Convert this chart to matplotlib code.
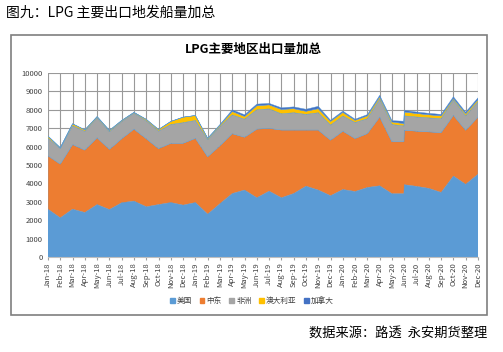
import matplotlib
matplotlib.use("Agg")
import matplotlib.pyplot as plt
import matplotlib.patches as mpatches
import numpy as np
import pandas as pd

plt.rcParams['font.family'] = ['Noto Sans CJK SC', 'DejaVu Sans']

# ---- data ----
dates = ["2018-01-01", "2018-02-01", "2018-03-01", "2018-04-01", "2018-05-01", "2018-06-01",
         "2018-07-01", "2018-08-01", "2018-09-01", "2018-10-01", "2018-11-01", "2018-12-01",
         "2019-01-01", "2019-02-01", "2019-03-01", "2019-04-01", "2019-05-01", "2019-06-01",
         "2019-07-01", "2019-08-01", "2019-09-01", "2019-10-01", "2019-11-01", "2019-12-01",
         "2020-01-01", "2020-02-01", "2020-03-01", "2020-04-01", "2020-05-01", "2020-05-31",
         "2020-06-01", "2020-07-01", "2020-08-01", "2020-09-01", "2020-10-01", "2020-11-01",
         "2020-12-01"]

usa = [2600, 2130, 2600, 2420, 2850, 2580, 2950, 3040, 2730, 2850, 2960, 2820,
       2960, 2330, 2900, 3450, 3640, 3220, 3580, 3220, 3450, 3850, 3640, 3330,
       3670, 3560, 3780, 3870, 3440, 3440, 3930, 3840, 3730, 3510, 4400, 3950, 4500]
middle_east = [2900, 2920, 3510, 3390, 3630, 3270, 3480, 3910, 3700, 3040, 3220, 3360,
               3490, 3120, 3150, 3250, 2870, 3730, 3410, 3680, 3450, 3050, 3260, 3020,
               3170, 2880, 2930, 3740, 2820, 2820, 2960, 3000, 3070, 3250, 3300, 2940, 3110]
africa = [960, 850, 1020, 1020, 1080, 960, 930, 860, 970, 950, 1020, 1120,
          970, 920, 1040, 1020, 980, 1050, 1060, 880, 940, 850, 940, 820,
          820, 870, 810, 960, 940, 860, 780, 770, 760, 760, 820, 780, 820]
australia = [110, 40, 110, 80, 70, 70, 60, 50, 80, 90, 170, 300,
             270, 80, 80, 190, 150, 220, 220, 240, 220, 170, 220, 200,
             200, 120, 150, 130, 140, 130, 210, 190, 170, 150, 90, 120, 120]
canada = [0, 0, 0, 0, 0, 0, 0, 0, 0, 0, 0, 0,
          0, 0, 30, 90, 90, 90, 80, 90, 100, 110, 130, 60,
          70, 60, 70, 90, 70, 130, 90, 80, 80, 80, 100, 80, 100]

series_names = ["美国", "中东", "非洲", "澳大利亚", "加拿大"]
colors = ["#5B9BD5", "#ED7D31", "#A5A5A5", "#FFC000", "#4472C4"]

# ---- figure ----
fig = plt.figure(figsize=(5.03, 3.52), dpi=100)

# outer frame
frame = mpatches.Rectangle((11 / 503, 1 - 315 / 352), (487 - 11) / 503, (315 - 35) / 352,
                           transform=fig.transFigure, fill=False, edgecolor="#7f7f7f",
                           linewidth=1.2)
fig.patches.append(frame)

fig.text(6 / 503, 1 - 13 / 352, "图九：LPG 主要出口地发船量加总", fontsize=10,
         ha="left", va="center", color="#000000")
fig.text(487 / 503, 1 - 333 / 352, "数据来源：路透  永安期货整理", fontsize=9.5,
         ha="right", va="center", color="#000000")

ax = fig.add_axes([48 / 503, 1 - 257 / 352, (478 - 48) / 503, (257 - 73) / 352])

d = pd.to_datetime(dates)
x = np.array([(t.year - 2018) * 12 + t.month - 1 + (t.day - 1) / t.days_in_month for t in d])

ax.stackplot(x, usa, middle_east, africa, australia, canada, colors=colors,
             labels=series_names, linewidth=0.3, edgecolors=colors, zorder=2)

ax.set_xlim(x.min(), x.max())
ax.set_ylim(0, 10000)
ax.set_yticks(np.arange(0, 10001, 1000))
tick_dates = [t for t in d if t.day == 1]
tick_pos = [(t.year - 2018) * 12 + t.month - 1 for t in tick_dates]
ax.set_xticks(tick_pos)
ax.set_xticklabels([t.strftime("%b-%y") for t in tick_dates], rotation=90)
ax.tick_params(axis="x", labelsize=5.5, colors="#404040", length=2, pad=2, color="#a0a0a0")
ax.tick_params(axis="y", labelsize=5.5, colors="#404040", length=0, pad=4)

ax.grid(True, color="#999999", linewidth=0.8, zorder=0)
ax.set_axisbelow(True)
for s in ["top", "right", "left"]:
    ax.spines[s].set_visible(False)
ax.spines["bottom"].set_color("#bfbfbf")

fig.text(253 / 503, 1 - 49 / 352, "LPG主要地区出口量加总", fontsize=9, fontweight="bold",
         ha="center", va="center", color="#000000")

handles = [mpatches.Patch(color=c) for c in colors]
fig.legend(handles, series_names, loc="center", bbox_to_anchor=(252 / 503, 1 - 301 / 352),
           ncol=5, frameon=False, fontsize=5.5, handlelength=0.6, handleheight=0.6,
           handletextpad=0.3, columnspacing=1.0, labelcolor="#404040")

fig.savefig("out.png", dpi=100)
